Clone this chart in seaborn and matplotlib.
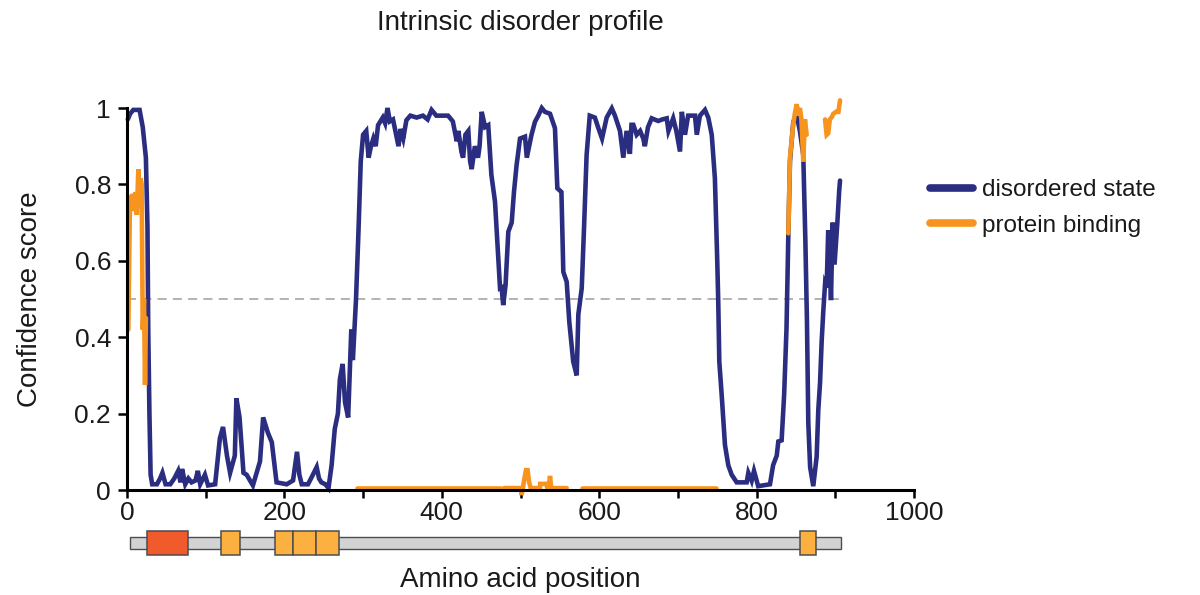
import numpy as np
import pandas as pd
import matplotlib
matplotlib.use("Agg")
import matplotlib.pyplot as plt
from matplotlib.lines import Line2D
import seaborn as sns

# ---- disorder prediction (residue position, confidence) ----
disorder_pos = [1, 4, 8, 16, 20, 24, 26, 27, 28.5, 30, 32, 38, 42, 45, 49, 55, 60, 65, 68, 70,
                74, 78, 82, 87, 90, 93, 99, 103, 112, 118, 122, 127, 131, 137, 139, 143, 148, 152,
                160, 169, 173, 179, 184, 190, 203, 211, 216, 219, 222, 230, 235, 241, 244, 247,
                252, 256, 260, 264, 268, 270.5, 274, 277, 281, 285, 287, 291, 294, 297, 300, 304,
                307, 310, 313, 316, 319, 325, 328, 331, 334, 338, 342, 345, 347.5, 351, 355, 360,
                368, 376, 382, 387, 393, 400, 408, 414, 419, 421, 425, 427, 430, 433.7, 436, 438,
                442, 446, 448, 450.7, 455, 459, 463, 467.6, 470.6, 474, 476, 478, 481, 484.5,
                488.8, 491.7, 495, 499.4, 505.7, 508, 510, 514, 518.4, 522.6, 527, 531, 537.5,
                543.8, 546.8, 552, 554.4, 558.7, 562, 567, 571.4, 573.5, 577.8, 580.7, 584, 588,
                594.5, 599, 603.6, 609.5, 616, 620, 626.4, 630.6, 634.8, 639, 641, 643.4, 647.6,
                652, 656, 658, 662, 666.7, 675, 680, 685.8, 688, 694, 698, 702.7, 705, 709, 713,
                721.7, 724, 728, 734.4, 738.6, 743, 747, 750, 751.3, 752.6, 755.6, 759.8, 764,
                768.3, 774.7, 787.4, 789.5, 793.7, 796.7, 802, 817, 821, 825.6, 827.6, 831.8,
                835, 838, 840.3, 842.4, 846.6, 851, 855, 859.3, 862, 864, 865.7, 868, 872, 876.3,
                878.4, 880.6, 882.7, 884.8, 887, 889, 891, 893, 894.5, 896.6, 899, 902.6, 905, 906]
disorder_val = [0.97, 0.985, 0.995, 0.995, 0.95, 0.87, 0.69, 0.42, 0.20, 0.04, 0.015, 0.015, 0.03,
                0.045, 0.015, 0.015, 0.03, 0.05, 0.02, 0.055, 0.015, 0.03, 0.02, 0.025, 0.05,
                0.015, 0.04, 0.012, 0.015, 0.135, 0.165, 0.09, 0.045, 0.09, 0.24, 0.19, 0.045,
                0.04, 0.012, 0.075, 0.19, 0.15, 0.125, 0.02, 0.015, 0.025, 0.10, 0.04, 0.015,
                0.015, 0.035, 0.06, 0.03, 0.02, 0.015, 0.005, 0.065, 0.16, 0.20, 0.29, 0.33,
                0.23, 0.19, 0.42, 0.34, 0.50, 0.67, 0.86, 0.93, 0.94, 0.87, 0.90, 0.92, 0.90,
                0.955, 0.975, 0.96, 1.0, 0.965, 0.97, 0.93, 0.90, 0.945, 0.92, 0.968, 0.98,
                0.975, 0.98, 0.97, 0.995, 0.98, 0.98, 0.98, 0.965, 0.913, 0.94, 0.885, 0.87,
                0.93, 0.94, 0.86, 0.84, 0.90, 0.87, 0.90, 0.99, 0.95, 0.955, 0.825, 0.755, 0.65,
                0.528, 0.53, 0.484, 0.536, 0.676, 0.70, 0.78, 0.85, 0.92, 0.925, 0.87, 0.89,
                0.93, 0.964, 0.98, 1.0, 0.99, 0.985, 0.947, 0.79, 0.78, 0.571, 0.545, 0.44,
                0.336, 0.30, 0.46, 0.528, 0.685, 0.877, 0.98, 0.975, 0.947, 0.92, 0.975, 0.999,
                0.98, 0.94, 0.87, 0.94, 0.88, 0.956, 0.956, 0.93, 0.94, 0.92, 0.90, 0.95, 0.973,
                0.966, 0.97, 0.973, 0.94, 0.973, 0.94, 0.886, 0.99, 0.93, 0.98, 0.98, 0.93,
                0.98, 0.995, 0.975, 0.93, 0.816, 0.60, 0.49, 0.336, 0.25, 0.118, 0.065, 0.04,
                0.02, 0.02, 0.045, 0.024, 0.05, 0.01, 0.015, 0.065, 0.09, 0.127, 0.13, 0.25,
                0.423, 0.667, 0.86, 0.964, 0.98, 0.94, 0.877, 0.65, 0.44, 0.175, 0.06, 0.01,
                0.087, 0.21, 0.28, 0.39, 0.47, 0.54, 0.53, 0.68, 0.61, 0.497, 0.70, 0.59, 0.70,
                0.785, 0.81]

# ---- protein-binding prediction, stored as separate stretches ----
binding_segment = ([1] * 15 + [2] * 2 + [3] * 17 + [4] * 2 + [5] * 11 + [6] * 9)
binding_pos = [1.7, 3.8, 6, 8, 9, 11, 12.5, 14.4, 15.7, 17.4, 18.6, 20, 21.6, 22.9, 24,
               292, 474,
               479, 500, 501.5, 503, 505, 507, 509, 511, 513, 524.8, 525, 533, 534, 536, 537.5,
               539, 558.7,
               578, 749,
               840.3, 842.4, 846.6, 849, 851, 853, 855, 857, 859.3, 861.4, 863.6,
               887, 889, 891, 893, 895.5, 897.5, 901, 904, 906]
binding_val = [0.42, 0.764, 0.77, 0.77, 0.73, 0.78, 0.72, 0.84, 0.74, 0.816, 0.80, 0.42, 0.50,
               0.275, 0.45,
               0.005, 0.005,
               0.005, 0.005, -0.013, 0.005, 0.03, 0.052, 0.052, 0.02, 0.005, 0.005, 0.016,
               0.016, 0.005, 0.005, 0.037, 0.005, 0.005,
               0.005, 0.005,
               0.672, 0.87, 0.96, 0.99, 1.01, 0.98, 1.0, 0.97, 0.86, 0.97, 0.93,
               0.97, 0.93, 0.934, 0.97, 0.976, 0.985, 0.99, 0.99, 1.02]

# ---- domain architecture ----
protein_start, protein_end = 4, 907
domain_start = [25, 119, 188, 211, 240, 855]
domain_end = [77, 144, 211, 240, 270, 876]
domain_kind = ["catalytic", "motif", "motif", "motif", "motif", "motif"]

threshold = 0.5
y_ticks = [0, 0.2, 0.4, 0.6, 0.8, 1]
y_tick_labels = ["0", "0.2", "0.4", "0.6", "0.8", "1"]
x_ticks = [0, 200, 400, 600, 800, 1000]
x_minor_ticks = [100, 300, 500, 700, 900]

NAVY = "#2b2e80"
ORANGE = "#f7941d"
DOMAIN_COLORS = {"catalytic": "#f15a2b", "motif": "#fbb040"}
BAR_GRAY = "#d1d3d4"
EDGE = "#4d4d4f"
TEXT = "#1a1a1a"

sns.set_style("ticks")
plt.rcParams["font.family"] = ["Liberation Sans", "DejaVu Sans"]
plt.rcParams["lines.scale_dashes"] = False

W, H = 1200, 595
fig = plt.figure(figsize=(W / 100, H / 100), dpi=100)
ax = fig.add_axes([127 / W, 1 - 490 / H, 787 / W, 382 / H])
dom_ax = fig.add_axes([127 / W, 1 - 561 / H, 787 / W, 36 / H])

dis_df = pd.DataFrame({"position": disorder_pos, "score": disorder_val})
bind_df = pd.DataFrame({"position": binding_pos, "score": binding_val,
                        "segment": binding_segment})

ax.hlines(threshold, protein_start - 4, protein_end - 1, colors="#a6a6a6",
          linewidth=1.2, linestyles=(0, (6.5, 4.5)), zorder=1)

sns.lineplot(data=dis_df, x="position", y="score", color=NAVY, linewidth=3.3,
             estimator=None, sort=False, ax=ax)
sns.lineplot(data=bind_df, x="position", y="score", units="segment", color=ORANGE,
             linewidth=3.3, estimator=None, sort=False, ax=ax)
for ln in ax.get_lines():
    ln.set_clip_on(False)
    ln.set_solid_joinstyle("miter")

ax.set_xlim(0, 1000)
ax.set_ylim(0, 1)
ax.set_xticks(x_ticks)
ax.set_xticks(x_minor_ticks, minor=True)
ax.set_yticks(y_ticks)
ax.set_yticklabels(y_tick_labels)
ax.set_xlabel("")
ax.set_ylabel("")
sns.despine(ax=ax)
for side in ("left", "bottom"):
    ax.spines[side].set_linewidth(2.2)
    ax.spines[side].set_color("black")
ax.tick_params(axis="both", which="both", direction="out", length=6, width=1.8,
               color="black", labelsize=19, labelcolor=TEXT)
ax.tick_params(axis="y", length=6.5, pad=5)
ax.tick_params(axis="x", pad=2)

# domain map under the x axis
dom_ax.set_xlim(0, 1000)
dom_ax.set_ylim(-1, 1)
dom_ax.axis("off")
dom_ax.barh(0, protein_end - protein_start, left=protein_start, height=0.68,
            color=BAR_GRAY, edgecolor=EDGE, linewidth=1.0)
dom_ax.barh([0] * len(domain_start), np.subtract(domain_end, domain_start),
            left=domain_start, height=1.38,
            color=[DOMAIN_COLORS[k] for k in domain_kind], edgecolor=EDGE, linewidth=1.1)

fig.text(520 / W, 1 - 23 / H, "Intrinsic disorder profile", ha="center", va="center",
         fontsize=20, color=TEXT)
fig.text(520 / W, 1 - 580 / H, "Amino acid position", ha="center", va="center",
         fontsize=20, color=TEXT)
fig.text(30 / W, 1 - 299 / H, "Confidence score", ha="center", va="center",
         rotation=90, fontsize=20, color=TEXT)

handles = [Line2D([], [], color=NAVY, linewidth=5.5),
           Line2D([], [], color=ORANGE, linewidth=5.5)]
fig.legend(handles, ["disordered state", "protein binding"], loc="center left",
           bbox_to_anchor=(930 / W, 1 - 208 / H), frameon=False, fontsize=17.5,
           handlelength=1.75, handletextpad=0.4, labelspacing=0.55,
           borderpad=0, borderaxespad=0, labelcolor=TEXT)

fig.savefig("out.png", dpi=100)
